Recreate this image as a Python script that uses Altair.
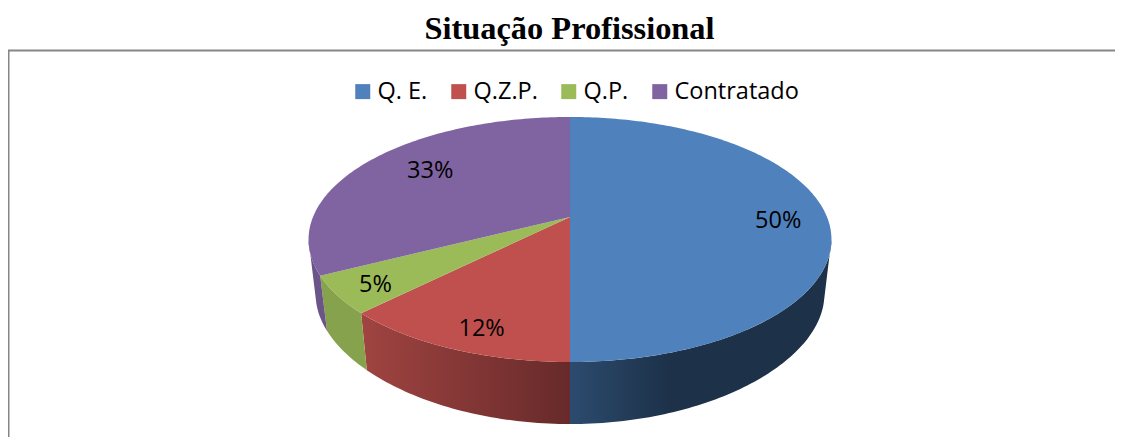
import math
import altair as alt
import pandas as pd

title_text = "Situação Profissional"
categories = ["Q. E.", "Q.Z.P.", "Q.P.", "Contratado"]
shares = [50.0, 12.5, 5.0, 32.5]
labels = ["50%", "12%", "5%", "33%"]
colors = ["#4f81bd", "#c0504d", "#9bbb59", "#8064a2"]

# side-wall shading for each slice: list of (offset, colour)
side_stops = [
    [(0, "#2c4b6e"), (0.38, "#1d3149"), (1, "#1d3149")],
    [(0, "#a04441"), (1, "#672a2a")],
    [(0, "#87a24d"), (1, "#87a24d")],
    [(0, "#6a5488"), (1, "#6a5488")],
]
label_radius = [0.81, 0.87, 0.85, 0.69]
label_dx = [0, 12, 0, 2]
label_dy = [4, 0, 3, -6]

# projected circle parameters of the top and the bottom face
CX, TOP_Y, TOP_A, TOP_B, P = 570.0, 217.0, 257.0, 118.4, 0.1837
BOT_Y, BOT_A, BOT_B, BOT_PY = 272.7, 250.0, 113.5, 0.25
SIL_TOP = 180 - math.degrees(math.acos(P))  # where the top rim turns back
SIL_BOT = 180 - math.degrees(math.acos(BOT_PY))  # where the bottom rim turns back


def top_pt(deg, r=1.0):
    u, v = r * math.sin(math.radians(deg)), r * math.cos(math.radians(deg))
    d = 1 + P * v
    return CX + TOP_A * u / d, TOP_Y - TOP_B * v / d


def bot_pt(deg):
    u, v = math.sin(math.radians(deg)), math.cos(math.radians(deg))
    return CX + BOT_A * u / (1 + P * v), BOT_Y - BOT_B * v / (1 + BOT_PY * v)


def arc(a, b, fn):
    n = max(2, int(abs(b - a)) + 1)
    return [fn(a + (b - a) * i / (n - 1)) for i in range(n)]


edges = [0.0]
for s in shares:
    edges.append(edges[-1] + s * 3.6)

top_rows, side_layers = [], []
for k, cat in enumerate(categories):
    a, b = edges[k], edges[k + 1]
    pts = [top_pt(a, 0.0)] + arc(a, b, top_pt)
    top_rows += [{"cat": cat, "i": i, "x": x, "y": y} for i, (x, y) in enumerate(pts)]

    lo, hi = max(a, SIL_TOP), min(b, 360 - SIL_TOP)
    lo2, hi2 = max(a, SIL_BOT), min(b, 360 - SIL_BOT)
    if hi > lo:
        poly = arc(lo, hi, top_pt) + arc(hi2, lo2, bot_pt)
        side_df = pd.DataFrame([{"i": i, "x": x, "y": y} for i, (x, y) in enumerate(poly)])
        side_layers.append((k, side_df, side_stops[k]))

x_scale = alt.Scale(domain=[8, 1115], range=[0, 1107], nice=False, zero=False)
y_scale = alt.Scale(domain=[8, 437], range=[0, 429], nice=False, zero=False)
X = alt.X("x:Q", scale=x_scale, axis=None)
Y = alt.Y("y:Q", scale=y_scale, axis=None)

layers = []
for k, df, stops in side_layers:
    grad = alt.LinearGradient(
        gradient="linear", x1=0, x2=1, y1=0, y2=0,
        stops=[alt.GradientStop(offset=o, color=c) for o, c in stops],
    )
    layers.append(
        alt.Chart(df)
        .mark_line(fill=grad, strokeWidth=0, interpolate="linear-closed")
        .encode(x=X, y=Y, order=alt.Order("i:Q"))
    )

top = (
    alt.Chart(pd.DataFrame(top_rows))
    .mark_line(strokeWidth=0, interpolate="linear-closed")
    .encode(
        x=X,
        y=Y,
        order=alt.Order("i:Q"),
        fill=alt.Fill(
            "cat:N",
            scale=alt.Scale(domain=categories, range=colors),
            legend=alt.Legend(
                title=None,
                orient="none",
                legendX=343,
                legendY=71.5,
                direction="horizontal",
                columns=4,
                symbolType="square",
                symbolSize=225,
                symbolStrokeWidth=0,
                symbolOpacity=1,
                columnPadding=19,
                labelOffset=3,
                labelFont="Open Sans",
                labelFontSize=23.5,
                labelColor="#000000",
                labelLimit=300,
            ),
        ),
    )
)

label_rows = []
mids = [(edges[k] + edges[k + 1]) / 2 for k in range(len(labels))]
for k, t in enumerate(labels):
    x, y = top_pt(mids[k], label_radius[k])
    label_rows.append({"t": t, "x": x + label_dx[k], "y": y + label_dy[k]})

text = (
    alt.Chart(pd.DataFrame(label_rows))
    .mark_text(font="Open Sans", fontSize=23.5, color="#000000", align="center", baseline="middle")
    .encode(x=X, y=Y, text="t:N")
)

one = pd.DataFrame({"t": [title_text]})
title_mark = (
    alt.Chart(one)
    .mark_text(
        font="Liberation Serif",
        fontSize=32.4,
        fontWeight="bold",
        color="#000000",
        align="center",
        baseline="alphabetic",
    )
    .encode(x=alt.value(561.5), y=alt.value(31), text="t:N")
)

frame_top = alt.Chart(one).mark_rule(color="#868686", strokeWidth=2).encode(
    x=alt.value(0), x2=alt.value(1107), y=alt.value(42.5)
)
frame_left = alt.Chart(one).mark_rule(color="#868686", strokeWidth=2).encode(
    x=alt.value(0.5), y=alt.value(42), y2=alt.value(429)
)

chart = (
    alt.layer(frame_top, frame_left, *layers, top, text, title_mark)
    .properties(
        width=1107,
        height=429,
        padding=0,
        autosize=alt.AutoSizeParams(type="none"),
    )
    .configure_view(stroke=None)
)

chart.save("out.html", embed_options={"renderer": "svg", "actions": False})
